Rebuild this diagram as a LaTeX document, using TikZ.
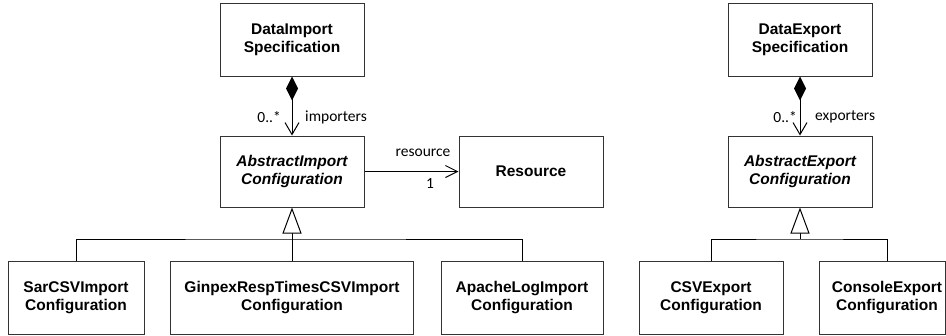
\documentclass[tikz,border=0pt]{standalone}
\usepackage{fontspec}
\setmainfont{Liberation Sans}
\newfontfamily\rolefont{Carlito}
\usetikzlibrary{arrows.meta}
\begin{document}
\begin{tikzpicture}[x=1pt,y=-1pt,
  cls/.style={draw=black!80, line width=1pt, inner sep=0pt, align=center,
    minimum height=73pt, font=\bfseries\fontsize{15.5}{18}\selectfont},
  abstractcls/.style={cls, minimum height=71pt,
    font=\bfseries\itshape\fontsize{15.5}{18}\selectfont},
  role/.style={inner sep=0pt, font=\rolefont\fontsize{15.5}{18}\selectfont},
  link/.style={draw=black, line width=1pt},
  comp/.style={link, {Diamond[length=24pt,width=12pt]}-{Straight Barb[length=12pt,width=14pt]}},
  assoc/.style={link, -{Straight Barb[length=12pt,width=12pt]}},
  gen/.style={link, -{Triangle[open,length=26pt,width=19pt,fill=white]}},
]
\useasboundingbox (0,0) rectangle (946,335);

% import side
\node[cls, minimum width=144pt] (dis) at (292,39.5) {DataImport\\Specification};
\node[abstractcls, minimum width=144pt] (aic) at (292,171.5) {AbstractImport\\Configuration};
\node[cls, minimum height=71pt, minimum width=144pt] (res) at (531,171.5) {Resource};
\node[cls, minimum width=136pt] (sar) at (76,297.5) {SarCSVImport\\Configuration};
\node[cls, minimum width=243pt] (gin) at (292,297.5) {GinpexRespTimesCSVImport\\Configuration};
\node[cls, minimum width=162pt] (apa) at (522,297.5) {ApacheLogImport\\Configuration};

% export side
\node[cls, minimum width=144pt] (des) at (800,39.5) {DataExport\\Specification};
\node[abstractcls, minimum width=144pt] (aec) at (800,171.5) {AbstractExport\\Configuration};
\node[cls, minimum width=144pt] (csv) at (711,297.5) {CSVExport\\Configuration};
\node[cls, minimum width=126pt] (con) at (882,297.5) {\hspace*{10pt}ConsoleExport\\\hspace*{10pt}Configuration};

% compositions and association
\draw[comp] (dis.south) -- (aic.north);
\draw[comp] (des.south) -- (aec.north);
\draw[assoc] (aic.east) -- (res.west);

\node[role, anchor=east] (imult) at (281,117) {0..*};
\node[role, anchor=west] (irole) at (305,117) {importers};
\node[role] (rrole) at (423,153) {resource};
\node[role] (rmult) at (430,184) {1};
\node[role, anchor=east] (emult) at (797,117) {0..*};
\node[role, anchor=west] (erole) at (815,117) {exporters};

% generalizations
\coordinate (ibus) at (292,239);
\coordinate (ebus) at (800,239);
\draw[link] (sar.north) |- (ibus) -| (apa.north);
\draw[gen] (gin.north) -- (aic.south);
\draw[link] (csv.north) |- (ebus) -| ([xshift=5pt]con.north);
\draw[gen] (ebus) -- (aec.south);
\end{tikzpicture}
\end{document}
